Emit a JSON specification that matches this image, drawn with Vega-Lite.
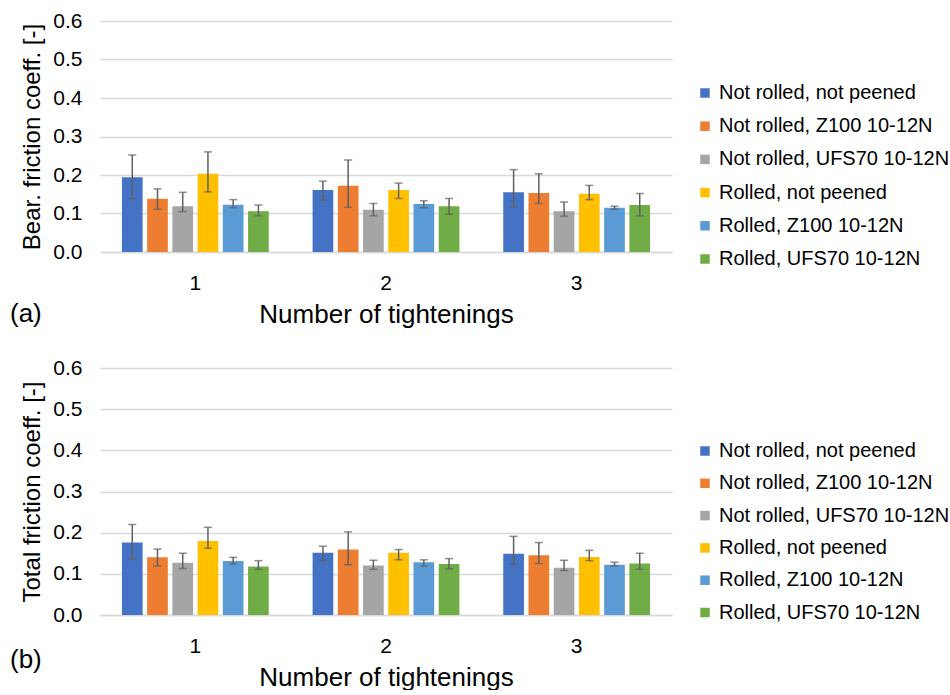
{
  "$schema": "https://vega.github.io/schema/vega-lite/v6.json",
  "padding": {"left": 10, "top": 10, "right": 0, "bottom": 0},
  "config": {
    "font": "Liberation Sans",
    "view": {"stroke": null},
    "axis": {"labelColor": "#000000", "titleColor": "#000000", "titleFontWeight": "normal", "ticks": false, "labelOverlap": false},
    "legend": {"labelColor": "#000000"}
  },
  "data": {
    "values": [
      {"panel": "a", "n": "1", "series": "Not rolled, not peened", "v": 0.194, "lo": 0.139, "hi": 0.252},
      {"panel": "a", "n": "1", "series": "Not rolled, Z100 10-12N", "v": 0.138, "lo": 0.111, "hi": 0.164},
      {"panel": "a", "n": "1", "series": "Not rolled, UFS70 10-12N", "v": 0.119, "lo": 0.105, "hi": 0.155},
      {"panel": "a", "n": "1", "series": "Rolled, not peened", "v": 0.203, "lo": 0.156, "hi": 0.260},
      {"panel": "a", "n": "1", "series": "Rolled, Z100 10-12N", "v": 0.123, "lo": 0.115, "hi": 0.136},
      {"panel": "a", "n": "1", "series": "Rolled, UFS70 10-12N", "v": 0.106, "lo": 0.094, "hi": 0.122},
      {"panel": "a", "n": "2", "series": "Not rolled, not peened", "v": 0.161, "lo": 0.135, "hi": 0.184},
      {"panel": "a", "n": "2", "series": "Not rolled, Z100 10-12N", "v": 0.172, "lo": 0.116, "hi": 0.239},
      {"panel": "a", "n": "2", "series": "Not rolled, UFS70 10-12N", "v": 0.110, "lo": 0.094, "hi": 0.126},
      {"panel": "a", "n": "2", "series": "Rolled, not peened", "v": 0.161, "lo": 0.139, "hi": 0.179},
      {"panel": "a", "n": "2", "series": "Rolled, Z100 10-12N", "v": 0.125, "lo": 0.115, "hi": 0.133},
      {"panel": "a", "n": "2", "series": "Rolled, UFS70 10-12N", "v": 0.119, "lo": 0.098, "hi": 0.139},
      {"panel": "a", "n": "3", "series": "Not rolled, not peened", "v": 0.155, "lo": 0.117, "hi": 0.214},
      {"panel": "a", "n": "3", "series": "Not rolled, Z100 10-12N", "v": 0.153, "lo": 0.126, "hi": 0.203},
      {"panel": "a", "n": "3", "series": "Not rolled, UFS70 10-12N", "v": 0.106, "lo": 0.093, "hi": 0.130},
      {"panel": "a", "n": "3", "series": "Rolled, not peened", "v": 0.151, "lo": 0.136, "hi": 0.173},
      {"panel": "a", "n": "3", "series": "Rolled, Z100 10-12N", "v": 0.115, "lo": 0.111, "hi": 0.119},
      {"panel": "a", "n": "3", "series": "Rolled, UFS70 10-12N", "v": 0.122, "lo": 0.094, "hi": 0.152},
      {"panel": "b", "n": "1", "series": "Not rolled, not peened", "v": 0.176, "lo": 0.136, "hi": 0.220},
      {"panel": "b", "n": "1", "series": "Not rolled, Z100 10-12N", "v": 0.140, "lo": 0.119, "hi": 0.160},
      {"panel": "b", "n": "1", "series": "Not rolled, UFS70 10-12N", "v": 0.127, "lo": 0.113, "hi": 0.150},
      {"panel": "b", "n": "1", "series": "Rolled, not peened", "v": 0.180, "lo": 0.162, "hi": 0.213},
      {"panel": "b", "n": "1", "series": "Rolled, Z100 10-12N", "v": 0.131, "lo": 0.124, "hi": 0.140},
      {"panel": "b", "n": "1", "series": "Rolled, UFS70 10-12N", "v": 0.118, "lo": 0.111, "hi": 0.132},
      {"panel": "b", "n": "2", "series": "Not rolled, not peened", "v": 0.151, "lo": 0.132, "hi": 0.167},
      {"panel": "b", "n": "2", "series": "Not rolled, Z100 10-12N", "v": 0.159, "lo": 0.122, "hi": 0.202},
      {"panel": "b", "n": "2", "series": "Not rolled, UFS70 10-12N", "v": 0.120, "lo": 0.111, "hi": 0.133},
      {"panel": "b", "n": "2", "series": "Rolled, not peened", "v": 0.151, "lo": 0.134, "hi": 0.159},
      {"panel": "b", "n": "2", "series": "Rolled, Z100 10-12N", "v": 0.128, "lo": 0.119, "hi": 0.134},
      {"panel": "b", "n": "2", "series": "Rolled, UFS70 10-12N", "v": 0.124, "lo": 0.112, "hi": 0.137},
      {"panel": "b", "n": "3", "series": "Not rolled, not peened", "v": 0.149, "lo": 0.123, "hi": 0.191},
      {"panel": "b", "n": "3", "series": "Not rolled, Z100 10-12N", "v": 0.145, "lo": 0.125, "hi": 0.176},
      {"panel": "b", "n": "3", "series": "Not rolled, UFS70 10-12N", "v": 0.115, "lo": 0.108, "hi": 0.133},
      {"panel": "b", "n": "3", "series": "Rolled, not peened", "v": 0.141, "lo": 0.132, "hi": 0.157},
      {"panel": "b", "n": "3", "series": "Rolled, Z100 10-12N", "v": 0.122, "lo": 0.119, "hi": 0.128},
      {"panel": "b", "n": "3", "series": "Rolled, UFS70 10-12N", "v": 0.125, "lo": 0.111, "hi": 0.150}
    ]
  },
  "spacing": 30,
  "resolve": {"legend": {"color": "independent"}, "scale": {"color": "independent"}},
  "vconcat": [
    {
      "width": 572,
      "height": 231,
      "title": {"text": "(a)", "orient": "bottom", "anchor": "start", "frame": "group", "dx": -90, "dy": -30, "fontSize": 26, "fontWeight": "normal", "color": "#000000"},
      "transform": [{"filter": "datum.panel == 'a'"}],
      "encoding": {
        "x": {"field": "n", "type": "nominal", "title": "Number of tightenings",
              "scale": {"paddingInner": 0.23, "paddingOuter": 0.115},
              "axis": {"labelAngle": 0, "labelFontSize": 21, "labelPadding": 20, "titleFontSize": 26, "titlePadding": 8, "domainColor": "#D9D9D9", "domainWidth": 1.5, "grid": false}},
        "xOffset": {"field": "series", "type": "nominal", "scale": {"domain": ["Not rolled, not peened", "Not rolled, Z100 10-12N", "Not rolled, UFS70 10-12N", "Rolled, not peened", "Rolled, Z100 10-12N", "Rolled, UFS70 10-12N"], "paddingInner": 0.18}}
      },
      "layer": [
        {
          "mark": {"type": "bar"},
          "encoding": {
            "y": {"field": "v", "type": "quantitative", "title": "Bear. friction coeff. [-]",
                  "scale": {"domain": [0, 0.6]},
                  "axis": {"values": [0, 0.1, 0.2, 0.3, 0.4, 0.5, 0.6], "tickCount": 7, "labelOverlap": false, "format": ".1f", "labelFontSize": 21, "labelPadding": 18, "titleFontSize": 24, "titlePadding": 8, "domain": false, "gridColor": "#D9D9D9", "gridWidth": 1.5}},
            "color": {"field": "series", "type": "nominal",
                      "scale": {"domain": ["Not rolled, not peened", "Not rolled, Z100 10-12N", "Not rolled, UFS70 10-12N", "Rolled, not peened", "Rolled, Z100 10-12N", "Rolled, UFS70 10-12N"], "range": ["#4472C4", "#ED7D31", "#A5A5A5", "#FFC000", "#5B9BD5", "#70AD47"]},
                      "legend": {"title": null, "orient": "none", "legendX": 595, "legendY": 62, "symbolType": "square", "symbolSize": 90, "labelFontSize": 20, "rowPadding": 13.2, "labelOffset": 4, "labelLimit": 400}}
          }
        },
        {
          "mark": {"type": "rule", "color": "#606060", "strokeWidth": 1.5},
          "encoding": {"y": {"field": "lo", "type": "quantitative"}, "y2": {"field": "hi"}}
        },
        {
          "mark": {"type": "tick", "color": "#606060", "thickness": 1.5, "size": 8},
          "encoding": {"y": {"field": "lo", "type": "quantitative"}}
        },
        {
          "mark": {"type": "tick", "color": "#606060", "thickness": 1.5, "size": 8},
          "encoding": {"y": {"field": "hi", "type": "quantitative"}}
        }
      ]
    },
    {
      "width": 572,
      "height": 247,
      "title": {"text": "(b)", "orient": "bottom", "anchor": "start", "frame": "group", "dx": -90, "dy": -47, "fontSize": 26, "fontWeight": "normal", "color": "#000000"},
      "transform": [{"filter": "datum.panel == 'b'"}],
      "encoding": {
        "x": {"field": "n", "type": "nominal", "title": "Number of tightenings",
              "scale": {"paddingInner": 0.23, "paddingOuter": 0.115},
              "axis": {"labelAngle": 0, "labelFontSize": 21, "labelPadding": 20, "titleFontSize": 26, "titlePadding": 8, "domainColor": "#D9D9D9", "domainWidth": 1.5, "grid": false}},
        "xOffset": {"field": "series", "type": "nominal", "scale": {"domain": ["Not rolled, not peened", "Not rolled, Z100 10-12N", "Not rolled, UFS70 10-12N", "Rolled, not peened", "Rolled, Z100 10-12N", "Rolled, UFS70 10-12N"], "paddingInner": 0.18}}
      },
      "layer": [
        {
          "mark": {"type": "bar"},
          "encoding": {
            "y": {"field": "v", "type": "quantitative", "title": "Total friction coeff. [-]",
                  "scale": {"domain": [0, 0.6]},
                  "axis": {"values": [0, 0.1, 0.2, 0.3, 0.4, 0.5, 0.6], "tickCount": 7, "labelOverlap": false, "format": ".1f", "labelFontSize": 21, "labelPadding": 18, "titleFontSize": 24, "titlePadding": 8, "domain": false, "gridColor": "#D9D9D9", "gridWidth": 1.5}},
            "color": {"field": "series", "type": "nominal",
                      "scale": {"domain": ["Not rolled, not peened", "Not rolled, Z100 10-12N", "Not rolled, UFS70 10-12N", "Rolled, not peened", "Rolled, Z100 10-12N", "Rolled, UFS70 10-12N"], "range": ["#4472C4", "#ED7D31", "#A5A5A5", "#FFC000", "#5B9BD5", "#70AD47"]},
                      "legend": {"title": null, "orient": "none", "legendX": 595, "legendY": 73, "symbolType": "square", "symbolSize": 90, "labelFontSize": 20, "rowPadding": 12.3, "labelOffset": 4, "labelLimit": 400}}
          }
        },
        {
          "mark": {"type": "rule", "color": "#606060", "strokeWidth": 1.5},
          "encoding": {"y": {"field": "lo", "type": "quantitative"}, "y2": {"field": "hi"}}
        },
        {
          "mark": {"type": "tick", "color": "#606060", "thickness": 1.5, "size": 8},
          "encoding": {"y": {"field": "lo", "type": "quantitative"}}
        },
        {
          "mark": {"type": "tick", "color": "#606060", "thickness": 1.5, "size": 8},
          "encoding": {"y": {"field": "hi", "type": "quantitative"}}
        }
      ]
    }
  ]
}
